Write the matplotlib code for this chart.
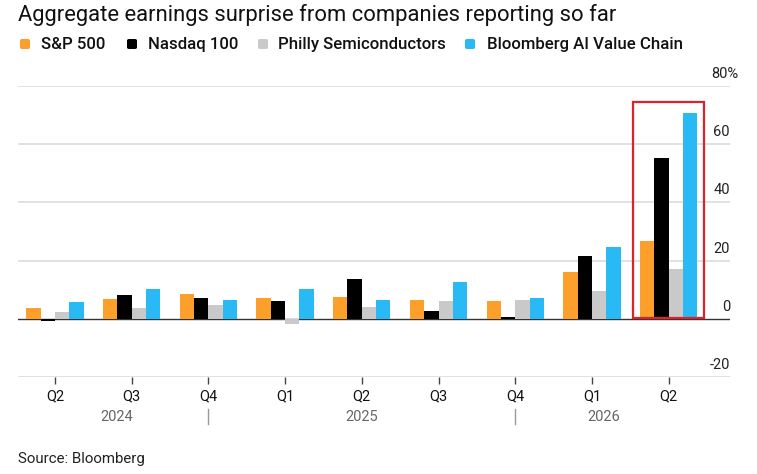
import numpy as np
import matplotlib.pyplot as plt
from matplotlib import transforms
from matplotlib.patches import Rectangle, FancyBboxPatch

plt.rcParams['font.family'] = ['Roboto', 'DejaVu Sans']

# data (earnings surprise, %)
quarters = ['Q2', 'Q3', 'Q4', 'Q1', 'Q2', 'Q3', 'Q4', 'Q1', 'Q2']
years = ['2024', '2025', '2026']
year_pos = [0.8, 4.0, 7.15]
year_breaks = [2, 6]
sp500 = [3.7, 6.9, 8.5, 7.0, 7.4, 6.3, 6.2, 16.0, 26.8]
nasdaq = [-0.6, 8.1, 7.3, 6.1, 13.8, 2.6, 0.6, 21.7, 55.1]
philly = [2.4, 3.7, 4.9, -1.7, 4.0, 6.2, 6.3, 9.6, 17.1]
ai_chain = [5.9, 10.2, 6.5, 10.2, 6.6, 12.6, 7.0, 24.7, 70.8]
series_names = ['S&P 500', 'Nasdaq 100', 'Philly Semiconductors', 'Bloomberg AI Value Chain']
colors = ['#fc9f2b', '#000000', '#c9c9c9', '#29b9f5']
y_ticks = [-20, 0, 20, 40, 60, 80]

fig = plt.figure(figsize=(7.57, 4.74), dpi=100)
ax = fig.add_axes([18 / 757, 97 / 474, 712 / 757, 291 / 474])

x = np.arange(len(quarters))
w = 0.187
for i, (vals, c) in enumerate(zip([sp500, nasdaq, philly, ai_chain], colors)):
    ax.bar(x + (i - 1.5) * w, vals, width=w, color=c, zorder=2, linewidth=0)

for t in y_ticks:
    if t == 0:
        ax.axhline(t, color='#333333', lw=1.0, zorder=1)
    else:
        ax.axhline(t, color='#dedede', lw=1.3, zorder=0)

ax.set_xlim(-0.482, 8.8)
ax.set_ylim(-20, 80)
for s in ax.spines.values():
    s.set_visible(False)
ax.set_xticks(x)
ax.set_yticks([])
ax.tick_params(axis='x', length=5, width=1, color='#444444', labelbottom=False)

# y labels sitting above their gridlines, right end of the axis
lab_tr = transforms.offset_copy(
    transforms.blended_transform_factory(ax.transAxes, ax.transData),
    fig=fig, y=5.8, units='points')
# the top label carries a '%' that hangs past the right edge
tmp = ax.text(0, 0, '%', fontsize=10.5)
pct_w = tmp.get_window_extent(fig.canvas.get_renderer()).width * 72 / fig.dpi
tmp.remove()
for t in y_ticks:
    if t == y_ticks[-1]:
        tr = transforms.offset_copy(lab_tr, fig=fig, x=pct_w - 1.5, units='points')
        ax.text(1.0, t, f'{t}%', transform=tr, ha='right', va='baseline',
                fontsize=10.5, color='#222222')
    else:
        ax.text(1.0, t, str(t), transform=lab_tr, ha='right', va='baseline',
                fontsize=10.5, color='#222222')

# quarter and year labels
xt = transforms.blended_transform_factory(ax.transData, ax.transAxes)
for xi, q in zip(x, quarters):
    ax.text(xi, -0.0814, q, transform=xt, ha='center', va='baseline',
            fontsize=10.5, color='#111111')
for xp, yr in zip(year_pos, years):
    ax.text(xp, -0.151, yr, transform=xt, ha='center', va='baseline',
            fontsize=10.5, color='#666666')
for xb in year_breaks:
    ax.plot([xb, xb], [-0.110, -0.1615], transform=xt, color='#999999',
            lw=1, clip_on=False)

# highlight box around latest quarter
last = len(quarters) - 1
top = max(sp500[last], nasdaq[last], philly[last], ai_chain[last]) + 3.7
ax.add_patch(Rectangle((last - 0.46, 0.4), 0.92, top - 0.4, fill=False,
                       edgecolor='#e0202a', lw=1.6, zorder=3))

# title, legend, source
fig.text(18 / 757, 1 - 20.7 / 474, 'Aggregate earnings surprise from companies reporting so far',
         fontsize=15.8, color='#111111', va='baseline', ha='left')
sq_x = [20, 127, 258, 465]
txt_x = [41, 148, 278, 487]
for name, c, sx, tx in zip(series_names, colors, sq_x, txt_x):
    fig.patches.append(FancyBboxPatch((sx / 757, 1 - 49 / 474), 10 / 757, 10 / 474,
                                      boxstyle='round,pad=0,rounding_size=0.003',
                                      transform=fig.transFigure, facecolor=c,
                                      edgecolor='none', figure=fig))
    fig.text(tx / 757, 1 - 49.3 / 474, name, fontsize=12.1, color='#111111',
             va='baseline', ha='left', fontweight='medium')
fig.text(18 / 757, 1 - 463.3 / 474, 'Source: Bloomberg', fontsize=10.8,
         color='#222222', va='baseline', ha='left')

fig.savefig('out.png', dpi=100)
